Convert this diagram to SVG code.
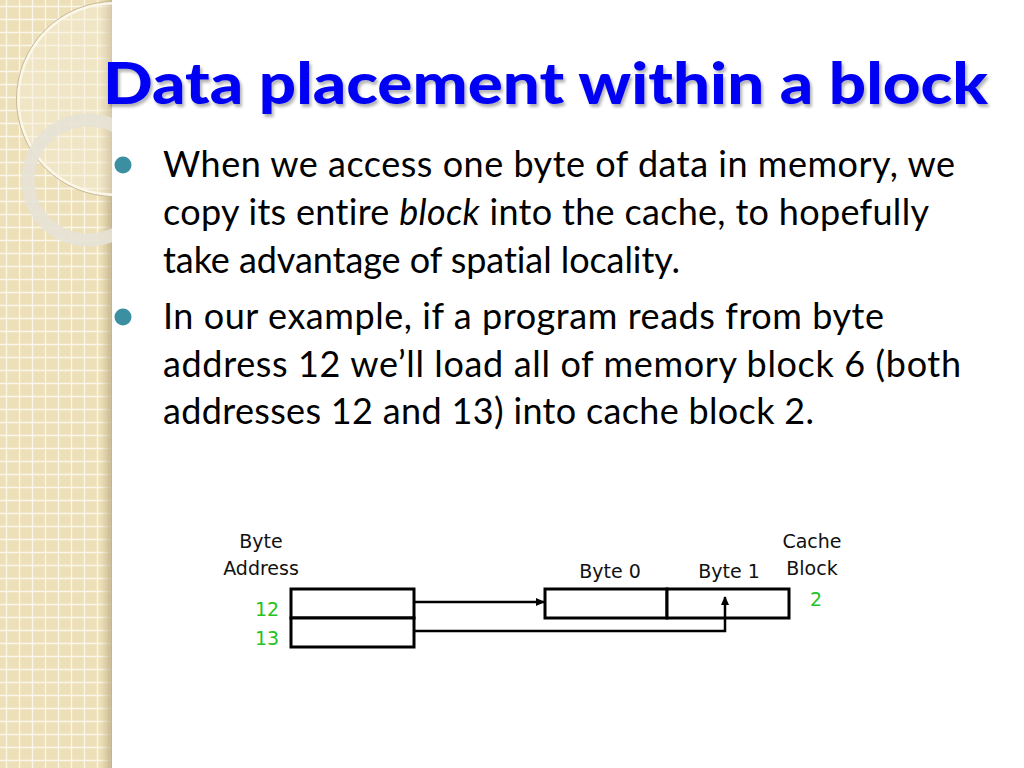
<svg xmlns="http://www.w3.org/2000/svg" width="1024" height="768" viewBox="0 0 1024 768">
<defs>
<pattern id="grid" x="0" y="0" width="13" height="13" patternUnits="userSpaceOnUse">
<rect width="13" height="13" fill="#ede0b9"/>
<path d="M6.5 0V13M0 6.5H13" stroke="#fbf6ea" stroke-width="1.3"/>
</pattern>
<linearGradient id="edge" x1="0" y1="0" x2="1" y2="0">
<stop offset="0" stop-color="#c8b88e" stop-opacity="0"/>
<stop offset="1" stop-color="#b8a67a" stop-opacity="0.8"/>
</linearGradient>
<clipPath id="strip"><rect x="0" y="0" width="112" height="768"/></clipPath>
<filter id="shadow" x="-5%" y="-20%" width="110%" height="140%">
<feDropShadow dx="2" dy="3" stdDeviation="1.5" flood-color="#000" flood-opacity="0.3"/>
</filter>
<marker id="arrow" markerWidth="9" markerHeight="9" refX="8" refY="4.5" orient="auto" markerUnits="userSpaceOnUse">
<path d="M0 0.5L9 4.5L0 8.5Z" fill="#000"/>
</marker>
<style>
.body{font-family:Lato,"Noto Sans",sans-serif;font-size:36px;fill:#000;font-variant-ligatures:none}
.lbl{font-family:"DejaVu Sans",Verdana,sans-serif;font-size:19px;fill:#111;text-anchor:middle}
.num{font-family:"DejaVu Sans",Verdana,sans-serif;font-size:19px;fill:#22c322;text-anchor:middle}
.box{fill:#fff;stroke:#000;stroke-width:3}
.wire{fill:none;stroke:#000;stroke-width:2.5}
.bullet{fill:#3b8fa0}
</style>
</defs>
<rect width="1024" height="768" fill="#fff"/>
<g id="background">
<rect x="0" y="0" width="112" height="768" fill="url(#grid)"/>
<rect x="100" y="0" width="12" height="768" fill="url(#edge)"/>
<g clip-path="url(#strip)">
<circle cx="114" cy="99" r="96" fill="#f6efd9" fill-opacity="0.35" stroke="#fbf7ea" stroke-width="3"/>
<circle cx="114" cy="99" r="97.5" fill="none" stroke="#c9b98f" stroke-width="1"/>
<circle cx="88" cy="180" r="60" fill="none" stroke="#e6e2d6" stroke-width="13" stroke-opacity="0.9"/>
</g>
</g>
<g id="title">
<text x="103" y="104" font-family="Lato,'Noto Sans',sans-serif" font-weight="900" font-size="58" fill="#0505f5" filter="url(#shadow)" textLength="885" lengthAdjust="spacingAndGlyphs">Data placement within a block</text>
</g>
<g id="bullets">
<circle class="bullet" cx="123" cy="165" r="8.5"/>
<circle class="bullet" cx="123" cy="317" r="8.5"/>
<text class="body" x="163" y="177" textLength="792">When we access one byte of data in memory, we</text>
<text class="body" x="163" y="225" textLength="766">copy its entire <tspan font-style="italic">block</tspan> into the cache, to hopefully</text>
<text class="body" x="163" y="273" textLength="517">take advantage of spatial locality.</text>
<text class="body" x="163" y="329" textLength="721">In our example, if a program reads from byte</text>
<text class="body" x="163" y="377" textLength="798">address 12 we’ll load all of memory block 6 (both</text>
<text class="body" x="163" y="424" textLength="651">addresses 12 and 13) into cache block 2.</text>
</g>
<g id="memory">
<text class="lbl" x="261" y="548">Byte</text>
<text class="lbl" x="261" y="575">Address</text>
<rect id="mem12" class="box" x="291" y="589" width="123" height="29"/>
<rect id="mem13" class="box" x="291" y="618" width="123" height="29"/>
<text class="num" x="267" y="616">12</text>
<text class="num" x="267" y="645">13</text>
</g>
<g id="cache">
<text class="lbl" x="610" y="578">Byte 0</text>
<text class="lbl" x="729" y="578">Byte 1</text>
<text class="lbl" x="812" y="548">Cache</text>
<text class="lbl" x="812" y="575">Block</text>
<rect id="byte0" class="box" x="545" y="589" width="122" height="29"/>
<rect id="byte1" class="box" x="667" y="589" width="122" height="29"/>
<text class="num" x="816" y="606">2</text>
</g>
<g id="connectors">
<path class="wire" d="M414 602H544" marker-end="url(#arrow)"/>
<path class="wire" d="M414 631H725V597" marker-end="url(#arrow)"/>
</g>
</svg>
